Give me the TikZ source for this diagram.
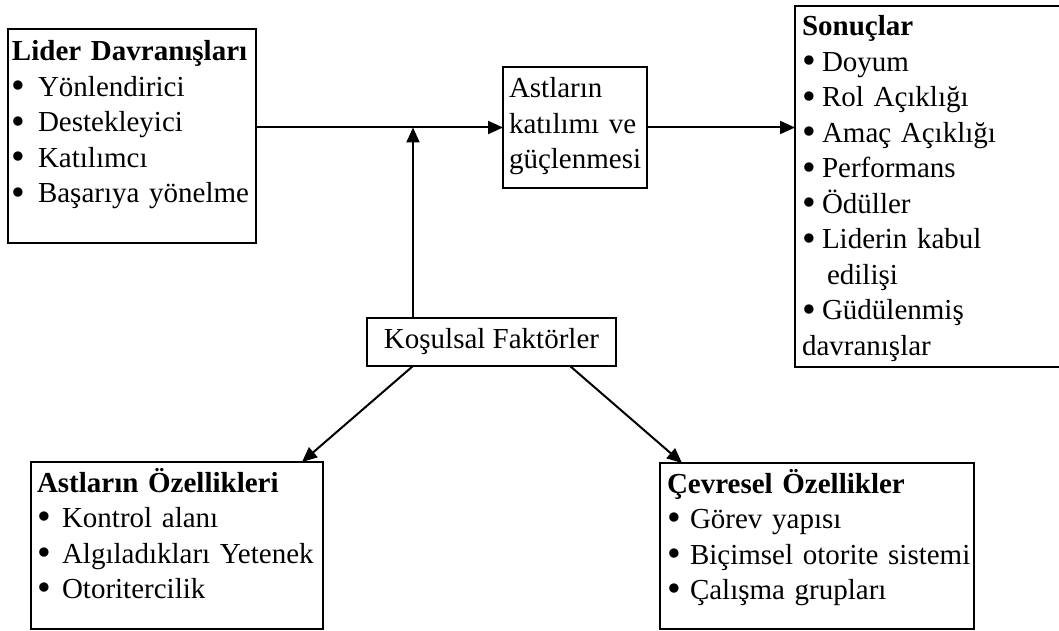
\documentclass[tikz,border=0pt]{standalone}
\usepackage{fontspec}
\setmainfont{Liberation Serif}
\usetikzlibrary{arrows.meta}
\newcommand{\bul}[2]{\mbox{\makebox[#1][l]{\raisebox{-2.2pt}{\scalebox{1.35}{\textbullet}}}#2}}
\begin{document}
\begin{tikzpicture}[x=1pt,y=-1pt,
  txt/.style={font=\fontsize{29}{35.5}\selectfont},
  box/.style={txt,draw,line width=2.1pt,anchor=north west,align=left,inner ysep=0pt,outer sep=0pt},
  arr/.style={line width=2pt,-{Triangle[length=15pt,width=13pt]}}]
\useasboundingbox (0,0) rectangle (1059,631);
\fill[white] (0,0) rectangle (1059,631);

\node[box,inner xsep=4pt,text width=240pt,text height=32pt,text depth=182pt] (lid) at (8,29)
 {\textbf{Lider Davranışları}\\\bul{26pt}{Yönlendirici}\\\bul{26pt}{Destekleyici}\\\bul{26pt}{Katılımcı}\\\bul{26pt}{Başarıya yönelme}};

\node[box,inner xsep=6pt,text width=132pt,text height=31pt,text depth=90pt] (ast) at (503,67)
 {Astların\\katılımı ve\\güçlenmesi};

\node[box,draw=none,inner xsep=7pt,text width=300pt,text height=30pt,text depth=331pt] (son) at (795,6)
 {\textbf{Sonuçlar}\\\bul{20pt}{Doyum}\\\bul{20pt}{Rol Açıklığı}\\\bul{20pt}{Amaç Açıklığı}\\\bul{20pt}{Performans}\\\bul{20pt}{Ödüller}\\\bul{20pt}{Liderin kabul}\\\hspace*{25pt}edilişi\\\bul{20pt}{Güdülenmiş}\\davranışlar};
\draw[line width=2.1pt] (son.north east) -- (son.north west) -- (son.south west) -- (son.south east);

\node[txt,draw,line width=2.1pt,outer sep=0pt,inner sep=0pt,minimum width=249pt,minimum height=48pt,text height=20pt,text depth=7pt] (kos) at (491.5,342)
 {Koşulsal Faktörler};

\node[box,inner xsep=6pt,text width=280pt,text height=30pt,text depth=137pt] (bl) at (31,462)
 {\textbf{Astların Özellikleri}\\\bul{25pt}{Kontrol alanı}\\\bul{25pt}{Algıladıkları Yetenek}\\\bul{25pt}{Otoritercilik}};

\node[box,inner xsep=7pt,text width=300pt,text height=30pt,text depth=136pt] (br) at (660,463)
 {\textbf{Çevresel Özellikler}\\\bul{23pt}{Görev yapısı}\\\bul{23pt}{Biçimsel otorite sistemi}\\\bul{23pt}{Çalışma grupları}};

\draw[arr] (ast.west -| lid.east) -- (ast.west);
\draw[arr] (ast.east) -- (ast.east -| son.west);
\draw[arr] ([xshift=46pt]kos.north west) -- ([xshift=46pt]kos.north west |- ast.west);
\draw[arr] ([xshift=46pt]kos.south west) -- ([xshift=-21pt]bl.north east);
\draw[arr] ([xshift=-46pt]kos.south east) -- ([xshift=22pt]br.north west);
\end{tikzpicture}
\end{document}
